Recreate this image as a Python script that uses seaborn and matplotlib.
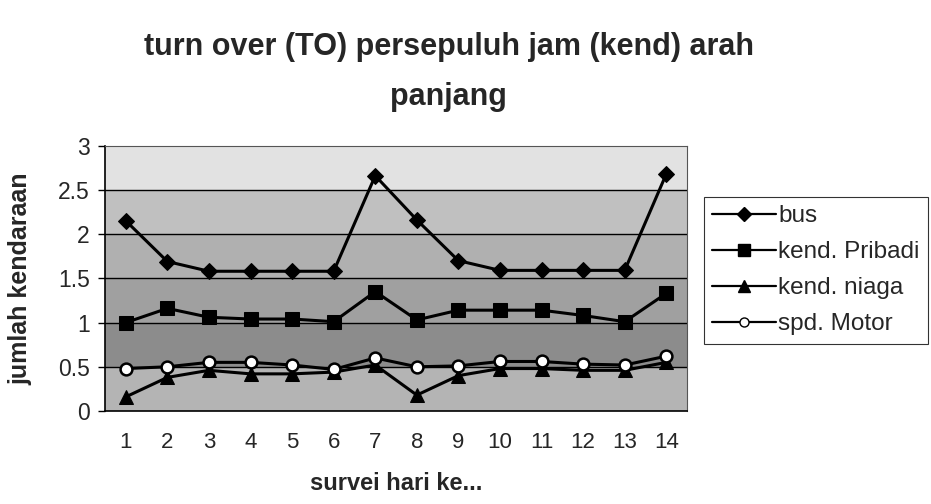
import matplotlib
matplotlib.use("Agg")
import matplotlib.pyplot as plt
import seaborn as sns
import pandas as pd
import numpy as np
from matplotlib.lines import Line2D

days = list(range(1, 15))
bus = [2.15, 1.69, 1.58, 1.58, 1.58, 1.58, 2.66, 2.16, 1.70, 1.59, 1.59, 1.59, 1.59, 2.68]
pribadi = [1.00, 1.16, 1.06, 1.04, 1.04, 1.01, 1.35, 1.03, 1.14, 1.14, 1.14, 1.08, 1.01, 1.33]
niaga = [0.16, 0.38, 0.46, 0.42, 0.42, 0.44, 0.52, 0.18, 0.40, 0.48, 0.48, 0.46, 0.46, 0.55]
motor = [0.48, 0.50, 0.55, 0.55, 0.52, 0.47, 0.60, 0.50, 0.51, 0.56, 0.56, 0.53, 0.52, 0.62]

series_names = ["bus", "kend. Pribadi", "kend. niaga", "spd. Motor"]
series_values = [bus, pribadi, niaga, motor]

df = pd.DataFrame({
    "hari": days * 4,
    "nilai": sum(series_values, []),
    "jenis": [n for n in series_names for _ in days],
})

sns.set_theme(style="white")
plt.rcParams["font.family"] = ["Liberation Sans", "DejaVu Sans"]

fig = plt.figure(figsize=(9.31, 5.04), dpi=100)
ax = fig.add_axes([0.1128, 0.1845, 0.6252, 0.5265])

# shaded horizontal bands behind the plot
band_edges = [0, 0.5, 1.0, 1.5, 2.0, 2.5, 3.0]
band_greys = ["#b4b4b4", "#8c8c8c", "#a0a0a0", "#b0b0b0", "#c0c0c0", "#e2e2e2"]
for lo, hi, g in zip(band_edges[:-1], band_edges[1:], band_greys):
    ax.axhspan(lo, hi, color=g, zorder=0, lw=0)
for y in [0.5, 1.0, 1.5, 2.0, 2.5]:
    ax.axhline(y, color="black", lw=1.0, zorder=1)

markers = {"bus": "D", "kend. Pribadi": "s", "kend. niaga": "^", "spd. Motor": "o"}
sns.lineplot(data=df, x="hari", y="nilai", hue="jenis", style="jenis",
             markers=markers, dashes=False,
             palette=["black"] * 4, linewidth=2.2, markersize=9.5,
             markeredgecolor="black", ax=ax, legend=False, zorder=3)

# open circles for motorcycles
for line, name in zip(ax.lines[-4:], series_names):
    if name == "spd. Motor":
        line.set_markerfacecolor("white")
        line.set_markersize(8.5)
        line.set_markeredgewidth(1.8)
    if name == "bus":
        line.set_markersize(8.5)

ax.set_xlim(0.5, 14.5)
ax.set_ylim(0, 3)
ax.set_xticks(days)
ax.set_xticklabels([str(d) for d in days])
ax.set_xticks(np.arange(0.5, 15, 1), minor=True)
ax.tick_params(axis="x", which="major", length=0, labelsize=16, pad=15)
ax.tick_params(axis="x", which="minor", length=7, width=1, color="black", direction="out")
ax.set_yticks([0, 0.5, 1, 1.5, 2, 2.5, 3])
ax.set_yticklabels(["0", "0.5", "1", "1.5", "2", "2.5", "3"])
ax.tick_params(axis="y", length=5, width=1, color="black", direction="out",
               labelsize=16.5, left=True, pad=6)

for s in ["left", "bottom"]:
    ax.spines[s].set_color("black")
    ax.spines[s].set_linewidth(1.2)
for s in ["top", "right"]:
    ax.spines[s].set_color("#555555")
    ax.spines[s].set_linewidth(0.8)

ax.set_xlabel("survei hari ke...", fontsize=17, fontweight="bold", labelpad=14)
ax.set_ylabel("jumlah kendaraan", fontsize=18, fontweight="bold")
ax.yaxis.set_label_coords(-0.125, 0.5)

fig.text(0.482, 0.857, "turn over (TO) persepuluh jam (kend) arah\npanjang",
         ha="center", va="center", fontsize=22, fontweight="bold", linespacing=1.85)

handles = []
for name in series_names:
    mfc = "white" if name == "spd. Motor" else "black"
    ms = {"bus": 7, "kend. Pribadi": 8, "kend. niaga": 9, "spd. Motor": 6.5}[name]
    handles.append(Line2D([], [], color="black", lw=1.6, marker=markers[name],
                          markersize=ms, markerfacecolor=mfc, markeredgecolor="black"))
leg = fig.legend(handles, series_names, loc="upper left",
                 bbox_to_anchor=(0.756, 0.61), frameon=True, fontsize=17.5,
                 handlelength=2.6, handletextpad=0.1, labelspacing=0.58,
                 borderpad=0.35, borderaxespad=0, fancybox=False)
leg.get_frame().set_edgecolor("black")
leg.get_frame().set_linewidth(0.8)

fig.savefig("out.png", dpi=100)
